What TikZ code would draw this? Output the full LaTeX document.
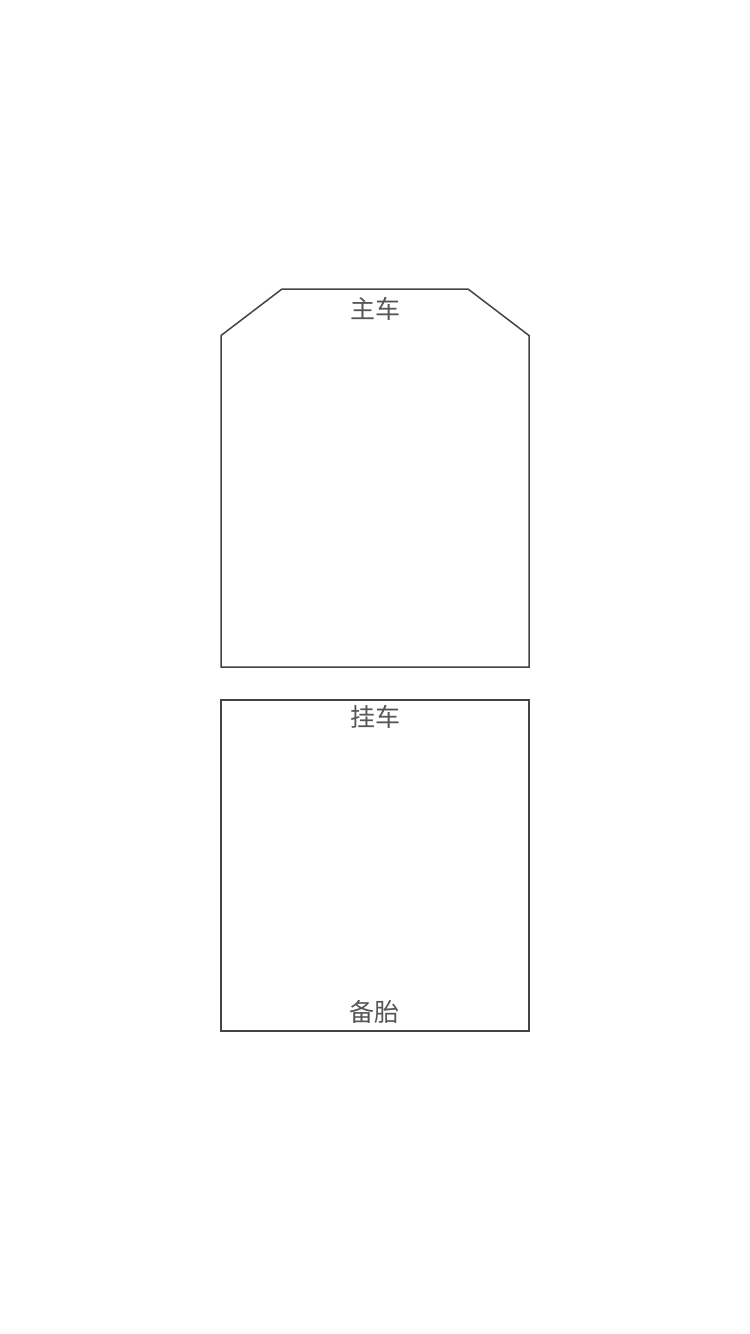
\documentclass[tikz,border=0pt]{standalone}
\usepackage{fontspec}
\newfontfamily\cjk{Noto Sans CJK SC}
\definecolor{linegray}{HTML}{444444}
\definecolor{textgray}{HTML}{555555}
\tikzset{
  outline/.style={draw=linegray, line width=1.5pt, line join=miter},
  lbl/.style={font=\cjk\fontsize{25}{29}\selectfont, text=textgray, inner sep=0pt, anchor=center}
}
\begin{document}
\begin{tikzpicture}[x=1pt,y=-1pt]
\useasboundingbox (0,0) rectangle (750,1334);
\fill[white] (0,0) rectangle (750,1334);
% main vehicle
\draw[outline] (221,335.5) -- (282,289) -- (468,289) -- (529,335.5) -- (529,667) -- (221,667) -- cycle;
% trailer
\draw[outline] (221,700) rectangle (529,1031);
\node[lbl] (main) at (375,309) {主车};
\node[lbl] (trailer) at (375,717) {挂车};
\node[lbl] (spare) at (374,1012) {备胎};
\end{tikzpicture}
\end{document}
